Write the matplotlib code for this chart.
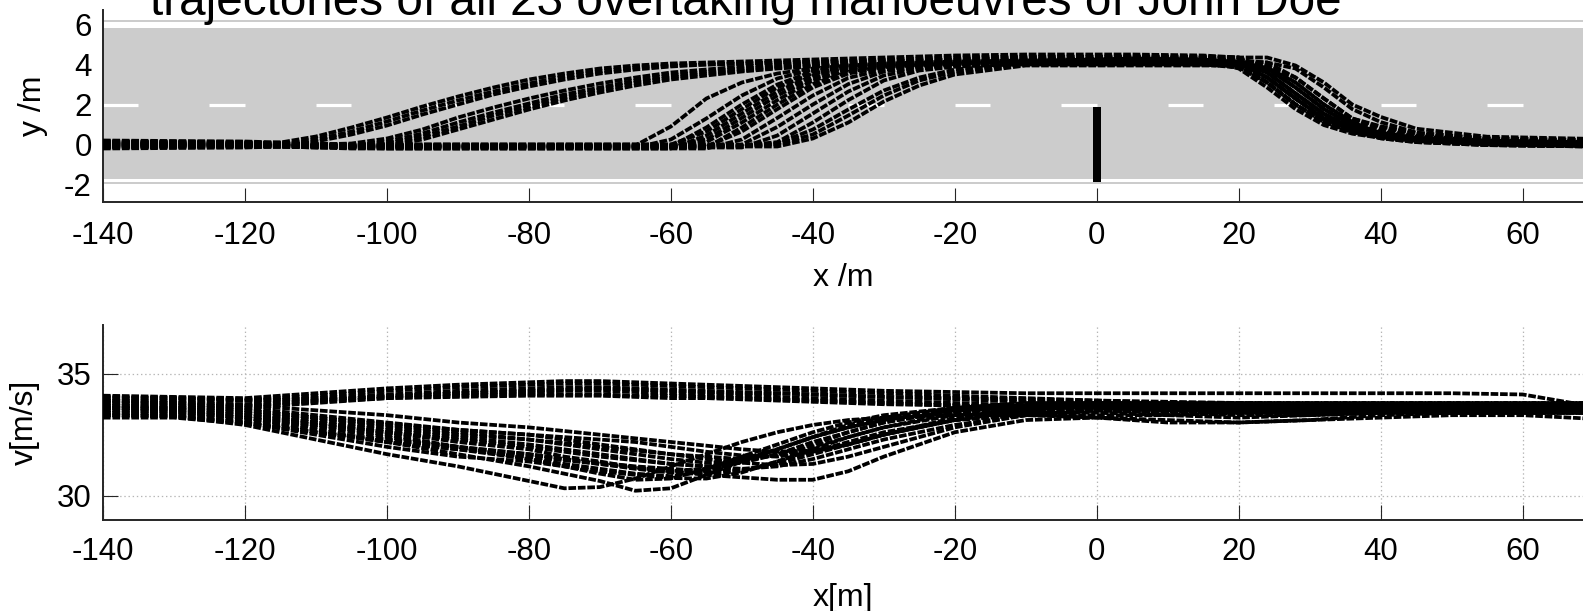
import numpy as np
import matplotlib
matplotlib.use('Agg')
import matplotlib.pyplot as plt
from matplotlib.patches import Rectangle

plt.rcParams['font.family'] = ['Liberation Sans', 'DejaVu Sans']
plt.rcParams['axes.unicode_minus'] = False
plt.rcParams['lines.scale_dashes'] = False

title = 'trajectories of all 23 overtaking manoeuvres of John Doe'

# lateral position y (m) of each manoeuvre, sampled at x_pos (m)
x_pos = [-140, -120, -115, -110, -105, -100, -95, -90, -85, -80,
         -75, -70, -65, -60, -55, -50, -45, -40, -35, -30,
         -25, -20, -10, 5, 15, 20, 24, 28, 32, 36,
         40, 45, 55, 70]

# early lane change (before -100 m)
y_early = [
    [0.1, 0.05, 0.1, 0.4, 0.85, 1.35, 1.9, 2.4, 2.85, 3.25,
     3.55, 3.8, 3.95, 4.05, 4.1, 4.15, 4.2, 4.25, 4.3, 4.35,
     4.4, 4.45, 4.5, 4.5, 4.45, 4.35, 3.6, 2.55, 1.53, 0.8,
     0.5, 0.3, 0.13, 0.05],
    [0.0, 0.0, 0.02, 0.25, 0.65, 1.15, 1.7, 2.2, 2.65, 3.05,
     3.4, 3.65, 3.85, 3.95, 4.0, 4.05, 4.1, 4.15, 4.2, 4.25,
     4.3, 4.35, 4.4, 4.4, 4.35, 3.95, 3.1, 2.0, 1.13, 0.62,
     0.37, 0.2, 0.07, 0.0],
    [-0.1, -0.05, -0.05, 0.15, 0.5, 0.95, 1.5, 2.0, 2.5, 2.9,
     3.25, 3.55, 3.75, 3.9, 4.0, 4.05, 4.1, 4.1, 4.15, 4.2,
     4.2, 4.25, 4.3, 4.3, 4.25, 4.1, 3.35, 2.3, 1.3, 0.71,
     0.31, 0.12, -0.03, -0.1],
    [0.15, 0.1, 0.05, 0.0, 0.05, 0.3, 0.75, 1.35, 1.85, 2.3,
     2.7, 3.05, 3.35, 3.6, 3.75, 3.9, 4.0, 4.05, 4.1, 4.15,
     4.2, 4.25, 4.35, 4.4, 4.4, 4.35, 3.8, 2.85, 1.77, 0.97,
     0.64, 0.39, 0.19, 0.11],
    [0.05, 0.0, -0.05, -0.05, -0.05, 0.15, 0.55, 1.1, 1.6, 2.05,
     2.5, 2.85, 3.2, 3.45, 3.65, 3.8, 3.9, 3.95, 4.0, 4.05,
     4.1, 4.15, 4.25, 4.3, 4.25, 3.95, 3.1, 2.0, 1.13, 0.62,
     0.37, 0.2, 0.07, 0.0],
    [-0.05, -0.05, -0.1, -0.1, -0.1, 0.05, 0.4, 0.9, 1.45, 1.9,
     2.35, 2.75, 3.1, 3.35, 3.55, 3.7, 3.85, 3.9, 3.95, 4.0,
     4.05, 4.1, 4.2, 4.25, 4.2, 4.05, 3.35, 2.3, 1.3, 0.71,
     0.36, 0.17, 0.02, -0.05],
    [0.0, -0.05, -0.1, -0.1, -0.15, -0.05, 0.25, 0.75, 1.25, 1.75,
     2.2, 2.6, 2.95, 3.25, 3.45, 3.65, 3.8, 3.9, 3.95, 4.0,
     4.05, 4.1, 4.15, 4.2, 4.2, 4.2, 4.1, 3.35, 2.3, 1.3,
     0.86, 0.52, 0.26, 0.17],
]

# late lane change (after -65 m)
y_late = [
    [0.15, 0.1, 0.05, 0.0, -0.05, -0.05, -0.05, -0.05, -0.05, -0.05,
     -0.05, -0.05, -0.05, 0.9, 2.3, 3.1, 3.55, 3.8, 3.95, 4.05,
     4.1, 4.15, 4.2, 4.25, 4.2, 3.8, 2.85, 1.77, 0.97, 0.54,
     0.33, 0.17, 0.06, 0.0],
    [0.0, 0.0, -0.05, -0.1, -0.15, -0.15, -0.15, -0.15, -0.15, -0.15,
     -0.15, -0.15, -0.15, 0.25, 1.3, 2.45, 3.3, 3.75, 3.9, 4.0,
     4.05, 4.1, 4.2, 4.3, 4.25, 3.95, 3.1, 2.0, 1.13, 0.62,
     0.37, 0.2, 0.07, 0.0],
    [-0.1, -0.05, -0.05, -0.1, -0.1, -0.1, -0.1, -0.1, -0.1, -0.1,
     -0.1, -0.1, -0.1, -0.1, 0.85, 2.0, 3.0, 3.65, 3.87, 3.97,
     4.02, 4.07, 4.12, 4.15, 4.1, 3.95, 3.35, 2.3, 1.3, 0.71,
     0.31, 0.12, -0.03, -0.1],
    [0.2, 0.15, 0.1, 0.05, 0.0, 0.0, 0.0, 0.0, 0.0, 0.0,
     0.0, 0.0, 0.0, 0.0, 0.65, 1.77, 2.85, 3.55, 3.85, 3.95,
     4.01, 4.06, 4.2, 4.35, 4.3, 4.2, 3.6, 2.55, 1.53, 0.8,
     0.5, 0.3, 0.13, 0.05],
    [-0.15, -0.1, -0.1, -0.15, -0.2, -0.2, -0.2, -0.2, -0.2, -0.2,
     -0.2, -0.2, -0.2, -0.2, 0.45, 1.55, 2.65, 3.45, 3.8, 3.93,
     4.0, 4.05, 4.08, 4.1, 4.1, 4.05, 3.8, 2.85, 1.77, 0.97,
     0.49, 0.24, 0.04, -0.04],
    [0.05, 0.05, 0.0, -0.05, -0.05, -0.05, -0.05, -0.05, -0.05, -0.05,
     -0.05, -0.05, -0.05, -0.05, 0.25, 1.33, 2.45, 3.33, 3.75, 3.91,
     3.99, 4.04, 4.15, 4.25, 4.25, 4.25, 3.95, 3.1, 2.0, 1.13,
     0.72, 0.43, 0.2, 0.11],
    [-0.05, -0.05, -0.05, -0.1, -0.1, -0.1, -0.1, -0.1, -0.1, -0.1,
     -0.1, -0.1, -0.1, -0.1, 0.12, 1.1, 2.22, 3.2, 3.7, 3.89,
     3.98, 4.0, 4.03, 4.05, 4.0, 3.85, 3.1, 2.0, 1.13, 0.62,
     0.37, 0.2, 0.07, 0.0],
    [0.1, 0.05, 0.0, -0.05, -0.1, -0.15, -0.15, -0.15, -0.15, -0.15,
     -0.15, -0.15, -0.15, -0.15, -0.15, 0.85, 2.0, 3.02, 3.65, 3.87,
     3.97, 4.02, 4.15, 4.3, 4.25, 4.1, 3.35, 2.3, 1.3, 0.71,
     0.51, 0.32, 0.17, 0.1],
    [-0.2, -0.15, -0.1, -0.1, -0.1, -0.1, -0.1, -0.1, -0.1, -0.1,
     -0.1, -0.1, -0.1, -0.1, -0.1, 0.65, 1.77, 2.85, 3.55, 3.85,
     3.95, 4.01, 4.1, 4.2, 4.2, 4.1, 3.6, 2.55, 1.53, 0.8,
     0.35, 0.15, -0.02, -0.1],
    [0.0, 0.0, -0.05, -0.1, -0.15, -0.2, -0.2, -0.2, -0.2, -0.2,
     -0.2, -0.2, -0.2, -0.2, -0.2, 0.25, 1.33, 2.45, 3.33, 3.75,
     3.91, 3.97, 4.0, 4.0, 4.0, 4.0, 3.95, 3.35, 2.3, 1.3,
     0.91, 0.57, 0.31, 0.22],
    [0.1, 0.1, 0.05, 0.0, 0.0, 0.0, 0.0, 0.0, 0.0, 0.0,
     0.0, 0.0, 0.0, 0.0, 0.0, 0.0, 0.88, 2.0, 3.02, 3.65,
     3.87, 3.97, 4.07, 4.15, 4.15, 4.15, 4.1, 3.8, 2.85, 1.77,
     1.12, 0.6, 0.27, 0.18],
    [-0.1, -0.1, -0.1, -0.15, -0.15, -0.15, -0.15, -0.15, -0.15, -0.15,
     -0.15, -0.15, -0.15, -0.15, -0.15, -0.15, 0.45, 1.55, 2.65, 3.45,
     3.8, 3.93, 4.1, 4.3, 4.35, 4.35, 4.35, 3.95, 3.1, 2.0,
     1.38, 0.79, 0.39, 0.28],
    [0.05, 0.0, 0.0, -0.05, -0.05, -0.05, -0.05, -0.05, -0.05, -0.05,
     -0.05, -0.05, -0.05, -0.05, -0.05, -0.05, 0.12, 1.1, 2.22, 3.2,
     3.7, 3.89, 4.03, 4.1, 4.05, 3.95, 3.35, 2.3, 1.3, 0.71,
     0.41, 0.22, 0.07, 0.0],
    [-0.05, -0.05, -0.05, -0.1, -0.1, -0.1, -0.1, -0.1, -0.1, -0.1,
     -0.1, -0.1, -0.1, -0.1, -0.1, -0.1, 0.05, 0.75, 1.75, 2.7,
     3.35, 3.75, 4.05, 4.1, 4.1, 4.0, 3.6, 2.55, 1.53, 0.8,
     0.4, 0.2, 0.03, -0.05],
    [0.15, 0.1, 0.05, 0.0, -0.05, -0.05, -0.05, -0.05, -0.05, -0.05,
     -0.05, -0.05, -0.05, -0.05, -0.05, -0.05, 0.0, 0.5, 1.45, 2.45,
     3.2, 3.65, 4.0, 4.2, 4.2, 4.15, 3.8, 2.85, 1.77, 0.97,
     0.59, 0.34, 0.14, 0.06],
    [-0.15, -0.1, -0.1, -0.1, -0.1, -0.1, -0.1, -0.1, -0.1, -0.1,
     -0.1, -0.1, -0.1, -0.1, -0.1, -0.1, -0.1, 0.3, 1.1, 2.15,
     2.95, 3.5, 3.95, 3.95, 3.95, 3.95, 3.85, 3.1, 2.0, 1.13,
     0.52, 0.23, 0.0, -0.09],
]

# speed v (m/s) sampled at x_speed (m)
x_speed = [-140, -130, -120, -110, -100, -90, -80, -75, -70, -65,
           -60, -55, -50, -45, -40, -35, -30, -20, -10, 0,
           10, 20, 30, 40, 50, 60, 70]

v_early = [
    [34.1, 34.05, 34.0, 34.2, 34.4, 34.55, 34.65, 34.7, 34.7, 34.65,
     34.6, 34.55, 34.5, 34.45, 34.4, 34.35, 34.3, 34.25, 34.2, 34.2,
     34.2, 34.2, 34.2, 34.2, 34.2, 34.15, 33.65],
    [34.0, 34.0, 33.95, 34.1, 34.3, 34.45, 34.55, 34.6, 34.6, 34.55,
     34.5, 34.45, 34.4, 34.35, 34.3, 34.25, 34.2, 34.1, 34.0, 33.9,
     33.8, 33.75, 33.7, 33.7, 33.7, 33.7, 33.7],
    [33.9, 33.9, 33.9, 34.0, 34.15, 34.3, 34.4, 34.45, 34.45, 34.4,
     34.35, 34.3, 34.25, 34.2, 34.15, 34.1, 34.05, 33.95, 33.85, 33.8,
     33.7, 33.65, 33.6, 33.6, 33.6, 33.6, 33.6],
    [33.8, 33.8, 33.75, 33.9, 34.1, 34.2, 34.25, 34.3, 34.3, 34.25,
     34.2, 34.15, 34.1, 34.05, 34.0, 33.95, 33.9, 33.8, 33.7, 33.6,
     33.55, 33.5, 33.5, 33.5, 33.5, 33.5, 33.5],
    [33.7, 33.7, 33.7, 33.85, 34.0, 34.1, 34.15, 34.15, 34.15, 34.1,
     34.1, 34.05, 34.0, 33.95, 33.9, 33.85, 33.8, 33.7, 33.6, 33.5,
     33.45, 33.4, 33.4, 33.4, 33.4, 33.4, 33.4],
    [34.05, 34.0, 33.9, 33.95, 34.05, 34.2, 34.3, 34.35, 34.4, 34.35,
     34.3, 34.25, 34.2, 34.2, 34.15, 34.1, 34.05, 34.0, 33.95, 33.9,
     33.85, 33.8, 33.75, 33.75, 33.75, 33.75, 33.75],
    [33.6, 33.6, 33.6, 33.8, 34.0, 34.05, 34.1, 34.1, 34.1, 34.05,
     34.0, 34.0, 33.95, 33.9, 33.85, 33.8, 33.75, 33.7, 33.6, 33.55,
     33.5, 33.45, 33.45, 33.45, 33.45, 33.45, 33.45],
]

v_late = [
    [33.3, 33.25, 32.9, 32.3, 31.7, 31.2, 30.6, 30.3, 30.35, 30.7,
     31.2, 31.7, 32.2, 32.6, 32.9, 33.1, 33.2, 33.3, 33.3, 33.3,
     33.3, 33.4, 33.4, 33.4, 33.4, 33.4, 33.4],
    [33.5, 33.45, 33.2, 32.7, 32.2, 31.7, 31.2, 30.9, 30.6, 30.2,
     30.3, 30.85, 31.4, 31.9, 32.4, 32.8, 33.1, 33.4, 33.5, 33.5,
     33.5, 33.5, 33.5, 33.5, 33.6, 33.6, 33.6],
    [33.6, 33.5, 33.3, 32.9, 32.5, 32.0, 31.5, 31.2, 30.9, 30.65,
     30.7, 31.1, 31.6, 32.1, 32.6, 33.0, 33.3, 33.6, 33.7, 33.7,
     33.6, 33.6, 33.6, 33.6, 33.6, 33.6, 33.6],
    [33.4, 33.35, 33.1, 32.6, 32.2, 31.9, 31.5, 31.3, 31.1, 30.9,
     30.8, 31.0, 31.4, 31.9, 32.4, 32.8, 33.1, 33.5, 33.6, 33.6,
     33.5, 33.5, 33.5, 33.5, 33.5, 33.5, 33.5],
    [33.7, 33.6, 33.4, 33.0, 32.6, 32.2, 31.9, 31.6, 31.4, 31.15,
     31.0, 31.1, 31.5, 31.9, 32.4, 32.9, 33.2, 33.6, 33.8, 33.8,
     33.7, 33.7, 33.7, 33.7, 33.7, 33.7, 33.7],
    [33.3, 33.3, 33.0, 32.5, 32.0, 31.6, 31.4, 31.2, 31.0, 30.85,
     30.72, 30.7, 30.95, 31.4, 31.9, 32.4, 32.8, 33.3, 33.4, 33.4,
     33.3, 33.2, 33.3, 33.4, 33.4, 33.4, 33.4],
    [33.6, 33.55, 33.3, 33.0, 32.7, 32.4, 32.1, 31.9, 31.7, 31.5,
     31.3, 31.2, 31.35, 31.7, 32.2, 32.6, 33.0, 33.5, 33.7, 33.7,
     33.6, 33.6, 33.6, 33.7, 33.7, 33.7, 33.7],
    [33.2, 33.2, 32.95, 32.6, 32.3, 32.0, 31.7, 31.5, 31.3, 31.1,
     30.95, 30.9, 31.0, 31.4, 31.8, 32.2, 32.6, 33.1, 33.3, 33.2,
     33.0, 33.0, 33.1, 33.3, 33.4, 33.4, 33.4],
    [33.8, 33.7, 33.5, 33.2, 32.9, 32.6, 32.3, 32.1, 31.9, 31.7,
     31.5, 31.35, 31.4, 31.7, 32.1, 32.6, 33.0, 33.5, 33.7, 33.8,
     33.8, 33.8, 33.8, 33.8, 33.8, 33.8, 33.8],
    [33.4, 33.4, 33.2, 32.8, 32.4, 32.0, 31.7, 31.5, 31.35, 31.2,
     31.1, 31.0, 31.05, 31.3, 31.7, 32.1, 32.5, 33.1, 33.4, 33.5,
     33.5, 33.4, 33.4, 33.5, 33.5, 33.5, 33.5],
    [33.9, 33.8, 33.6, 33.3, 33.0, 32.7, 32.5, 32.3, 32.1, 31.9,
     31.7, 31.6, 31.5, 31.65, 32.0, 32.4, 32.8, 33.4, 33.7, 33.8,
     33.8, 33.7, 33.7, 33.7, 33.7, 33.7, 33.7],
    [33.5, 33.45, 33.2, 32.9, 32.6, 32.3, 32.0, 31.8, 31.6, 31.45,
     31.3, 31.2, 31.1, 31.2, 31.5, 31.9, 32.3, 32.9, 33.3, 33.5,
     33.5, 33.5, 33.5, 33.5, 33.5, 33.5, 33.5],
    [33.7, 33.65, 33.5, 33.2, 32.95, 32.7, 32.5, 32.4, 32.3, 32.2,
     32.0, 31.8, 31.65, 31.6, 31.8, 32.1, 32.5, 33.1, 33.5, 33.7,
     33.7, 33.6, 33.6, 33.6, 33.6, 33.6, 33.6],
    [33.3, 33.25, 33.0, 32.6, 32.2, 31.9, 31.6, 31.45, 31.3, 31.15,
     31.0, 30.85, 30.75, 30.65, 30.65, 31.0, 31.6, 32.6, 33.1, 33.2,
     33.1, 33.0, 33.1, 33.2, 33.3, 33.3, 33.15],
    [33.6, 33.55, 33.4, 33.1, 32.8, 32.5, 32.3, 32.15, 32.0, 31.85,
     31.7, 31.5, 31.35, 31.25, 31.3, 31.6, 32.0, 32.8, 33.3, 33.5,
     33.4, 33.3, 33.3, 33.4, 33.5, 33.5, 33.5],
    [33.9, 33.85, 33.7, 33.5, 33.3, 33.0, 32.8, 32.65, 32.5, 32.35,
     32.2, 32.05, 31.9, 31.8, 31.85, 32.1, 32.5, 33.2, 33.6, 33.8,
     33.8, 33.8, 33.8, 33.8, 33.8, 33.8, 33.8],
]

x_ticks = [-140, -120, -100, -80, -60, -40, -20, 0, 20, 40, 60]
y_ticks_pos = [-2, 0, 2, 4, 6]
y_ticks_speed = [30, 35]

# road drawing (m)
road_bottom, road_top = -1.97, 6.21
edge_white = [(-1.85, -1.70), (5.83, 6.11)]
lane_mark_y = 2.0
lane_mark_len, lane_mark_period = 5, 15
obstacle_x, obstacle_w = 0.0, 1.1
obstacle_y0, obstacle_y1 = -1.85, 1.9

W, H = 1583, 611
fig = plt.figure(figsize=(W / 100, H / 100), dpi=100)
ax1 = fig.add_axes([103 / W, 1 - 202 / H, 1 - 103 / W, 192 / H])
ax2 = fig.add_axes([103 / W, 1 - 520 / H, 1 - 103 / W, 195 / H])

line_kw = dict(color='black', lw=2.7, linestyle=(0, (5.5, 1.3)), zorder=3)

# top: road and trajectories
ax1.axhspan(road_bottom, road_top, color='#cccccc', lw=0, zorder=0)
for lo, hi in edge_white:
    ax1.axhspan(lo, hi, color='white', lw=0, zorder=1)
for x0 in np.arange(-140, 70, lane_mark_period):
    ax1.plot([x0, x0 + lane_mark_len], [lane_mark_y, lane_mark_y],
             color='white', lw=2.3, solid_capstyle='butt', zorder=1)
for row in y_early + y_late:
    ax1.plot(x_pos, row, **line_kw)
ax1.add_patch(Rectangle((obstacle_x - obstacle_w / 2, obstacle_y0), obstacle_w,
                        obstacle_y1 - obstacle_y0, color='black', lw=0, zorder=4))

# bottom: speed
for row in v_early + v_late:
    ax2.plot(x_speed, row, **line_kw)

for ax in (ax1, ax2):
    ax.set_xlim(-140, 68.5)
    ax.set_xticks(x_ticks)
    for s in ('top', 'right'):
        ax.spines[s].set_visible(False)
    for s in ('left', 'bottom'):
        ax.spines[s].set_color('#262626')
        ax.spines[s].set_linewidth(1.4)
    ax.tick_params(direction='in', colors='#262626', labelcolor='black',
                   labelsize=22.5, width=0.8)

ax1.set_ylim(-2.875, 6.725)
ax1.set_yticks(y_ticks_pos)
ax1.tick_params(axis='x', length=10, pad=13.5)
ax1.tick_params(axis='y', length=0, pad=8)
ax1.set_xlabel('x /m', fontsize=23)
ax1.set_ylabel('y /m', fontsize=23)
ax1.xaxis.set_label_coords(0.5, -0.318)
ax1.yaxis.set_label_coords(-0.0372, 0.5)

ax2.set_ylim(29, 37)
ax2.set_yticks(y_ticks_speed)
ax2.tick_params(axis='x', length=10.5, pad=12)
ax2.tick_params(axis='y', length=10.5, pad=8)
ax2.grid(True, color='#b5b5b5', linestyle=(0, (1, 2)), lw=0.9)
ax2.set_axisbelow(True)
ax2.set_xlabel('x[m]', fontsize=23)
ax2.set_ylabel('v[m/s]', fontsize=23)
ax2.xaxis.set_label_coords(0.5, -0.323)
ax2.yaxis.set_label_coords(-0.0426, 0.5)

# the title sits partly above the top edge, as in the source screenshot
fig.text(150 / W, 1 - 15 / H, title, fontsize=34.3, ha='left', va='baseline')

fig.savefig('out.png', dpi=100)
